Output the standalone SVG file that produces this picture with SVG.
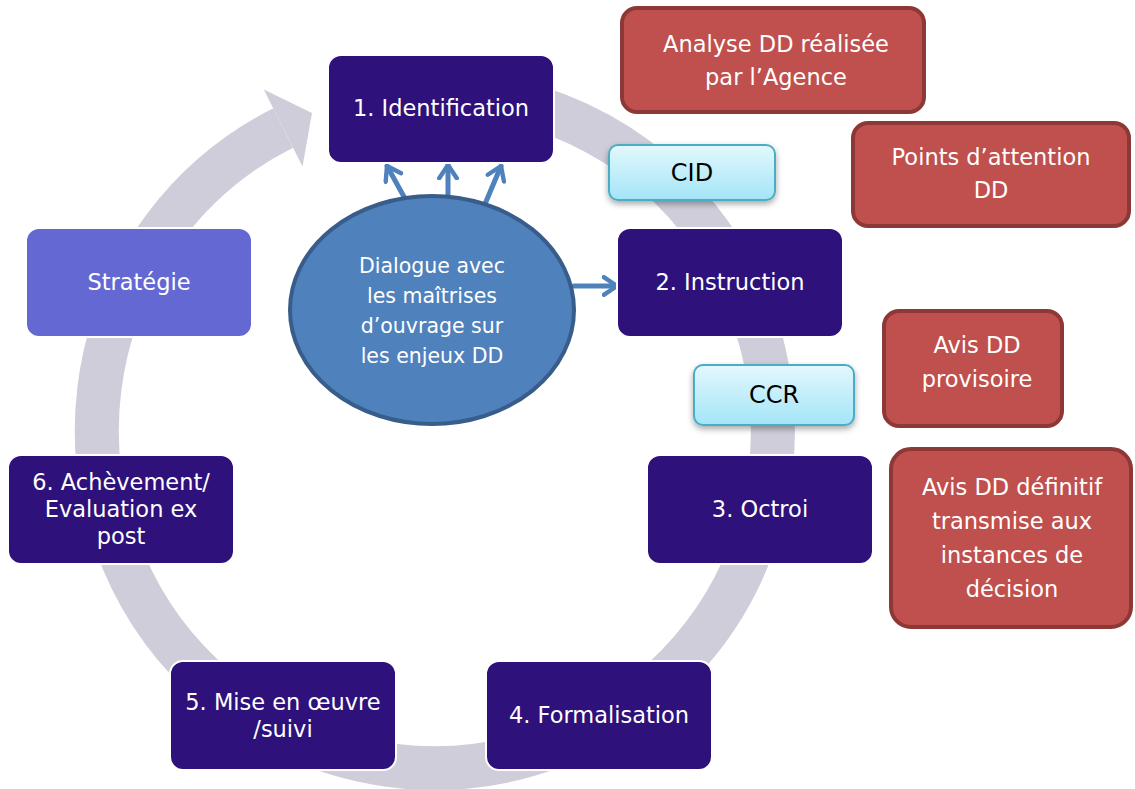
<svg xmlns="http://www.w3.org/2000/svg" width="1135" height="789" viewBox="0 0 1135 789">
<defs>
<style>
.step{fill:#2E117A;stroke:#ffffff;stroke-width:2}
.strat{fill:#6368D2;stroke:#ffffff;stroke-width:2}
.red{fill:#C0504D;stroke:#8C3836;stroke-width:4}
.tag{fill:url(#cyan);stroke:#4BACC6;stroke-width:2;filter:url(#sh)}
.t{font-family:"DejaVu Sans","Noto Sans",sans-serif;font-size:22.5px;fill:#ffffff;text-anchor:middle}
.tk{font-family:"DejaVu Sans","Noto Sans",sans-serif;font-size:24px;fill:#000000;text-anchor:middle}
.te{font-family:"DejaVu Sans","Noto Sans",sans-serif;font-size:20.5px;fill:#ffffff;text-anchor:middle}
.conn{fill:none;stroke:#4F81BD;stroke-width:5;stroke-linecap:round}
</style>
<linearGradient id="cyan" x1="0" y1="0" x2="0" y2="1">
<stop offset="0" stop-color="#E3F8FD"/>
<stop offset="1" stop-color="#A3E5F7"/>
</linearGradient>
<filter id="sh" x="-20%" y="-20%" width="140%" height="160%">
<feDropShadow dx="0" dy="3" stdDeviation="3" flood-color="#000000" flood-opacity="0.35"/>
</filter>
<marker id="ah" viewBox="0 0 10 10" refX="7" refY="5" markerWidth="4.4" markerHeight="4.4" orient="auto" markerUnits="strokeWidth">
<path d="M1,1 L7,5 L1,9" fill="none" stroke="#4F81BD" stroke-width="2" stroke-linecap="round" stroke-linejoin="round"/>
</marker>
</defs>
<rect width="1135" height="789" fill="#ffffff"/>
<g id="cycle">
<path d="M405.5,93.3 A338,338 0 1 1 283.1,128" fill="none" stroke="#CECDD9" stroke-width="44"/>
<polygon points="263.8,89.6 312,113 302.5,166.4" fill="#CECDD9"/>
</g>
<g id="connectors">
<line class="conn" x1="408" y1="204" x2="387" y2="166" marker-end="url(#ah)"/>
<line class="conn" x1="448" y1="204" x2="448" y2="165" marker-end="url(#ah)"/>
<line class="conn" x1="485" y1="204" x2="501" y2="166" marker-end="url(#ah)"/>
<line class="conn" x1="574" y1="286" x2="617" y2="286" marker-end="url(#ah)"/>
</g>
<g id="n1"><rect class="step" x="328" y="55" width="226" height="108" rx="13"/><text class="t" x="441" y="116">1. Identification</text></g>
<g id="n2"><rect class="step" x="617" y="228" width="226" height="109" rx="13"/><text class="t" x="730" y="290">2. Instruction</text></g>
<g id="n3"><rect class="step" x="647" y="455" width="226" height="109" rx="13"/><text class="t" x="760" y="517">3. Octroi</text></g>
<g id="n4"><rect class="step" x="486" y="661" width="226" height="109" rx="13"/><text class="t" x="599" y="723">4. Formalisation</text></g>
<g id="n5"><rect class="step" x="170" y="661" width="226" height="109" rx="13"/><text class="t" x="283" y="710">5. Mise en œuvre</text><text class="t" x="283" y="737">/suivi</text></g>
<g id="n6"><rect class="step" x="8" y="455" width="226" height="109" rx="13"/><text class="t" x="121" y="490">6. Achèvement/</text><text class="t" x="121" y="517">Evaluation ex</text><text class="t" x="121" y="544">post</text></g>
<g id="strategie"><rect class="strat" x="26" y="228" width="226" height="109" rx="13"/><text class="t" x="139" y="290">Stratégie</text></g>
<g id="dialogue"><ellipse cx="432" cy="310" rx="142" ry="114" fill="#4F81BD" stroke="#385D8A" stroke-width="4"/>
<text class="te" x="432" y="273">Dialogue avec</text><text class="te" x="432" y="303">les maîtrises</text><text class="te" x="432" y="333">d’ouvrage sur</text><text class="te" x="432" y="363">les enjeux DD</text></g>
<g id="cid"><rect class="tag" x="609" y="145" width="166" height="55" rx="9"/><text class="tk" x="692" y="181">CID</text></g>
<g id="ccr"><rect class="tag" x="694" y="365" width="160" height="60" rx="9"/><text class="tk" x="774" y="403">CCR</text></g>
<g id="analyse"><rect class="red" x="622" y="8" width="302" height="104" rx="15"/><text class="t" x="776" y="52">Analyse DD réalisée</text><text class="t" x="776" y="85">par l’Agence</text></g>
<g id="points"><rect class="red" x="853" y="123" width="276" height="103" rx="15"/><text class="t" x="991" y="165">Points d’attention</text><text class="t" x="991" y="198">DD</text></g>
<g id="provisoire"><rect class="red" x="884" y="311" width="178" height="115" rx="15"/><text class="t" x="977" y="353">Avis DD</text><text class="t" x="977" y="387">provisoire</text></g>
<g id="definitif"><rect class="red" x="891" y="449" width="240" height="178" rx="20"/><text class="t" x="1012" y="495">Avis DD définitif</text><text class="t" x="1012" y="529">transmise aux</text><text class="t" x="1012" y="563">instances de</text><text class="t" x="1012" y="597">décision</text></g>
</svg>
